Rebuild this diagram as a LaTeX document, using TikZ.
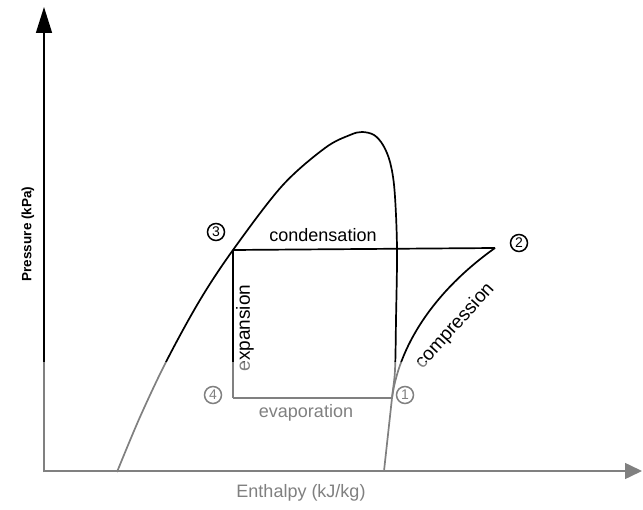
\documentclass[tikz,border=0pt]{standalone}
\usepackage{fontspec}
\setmainfont{Liberation Sans}
\usetikzlibrary{arrows.meta}
\begin{document}
\begin{tikzpicture}[x=1pt,y=-1pt,
  curve/.style={line width=1.7pt, line join=round},
  axis/.style={line width=1.5pt},
  lbl/.style={font=\fontsize{18}{18}\selectfont, inner sep=0pt},
  statemark/.style={circle, draw, line width=1.5pt, minimum size=17pt, inner sep=0pt,
    font=\fontsize{14}{14}\selectfont}]
\useasboundingbox (0,0) rectangle (643,510);
% axes
\coordinate (o) at (44,471);
\coordinate (ytip) at (44,7);
\coordinate (xtip) at (642,471);
\draw[axis, -{Triangle[length=26pt,width=16pt]}] (44,472.5) -- (ytip);
\draw[axis, -{Triangle[length=17pt,width=16pt]}] (43.3,471) -- (xtip);
\node[rotate=90, font=\bfseries\fontsize{13.5}{13.5}\selectfont, inner sep=0pt] (ylab) at (28,234) {Pressure (kPa)};
\node[lbl] (xlab) at (301,493) {Enthalpy (kJ/kg)};
% state points
\coordinate (s1) at (392,398);
\coordinate (s2) at (495,248);
\coordinate (s3) at (233,250);
\coordinate (s4) at (233,398);
% saturation dome
\draw[curve] plot[smooth, tension=0.55] coordinates {(117,472) (140,417) (167,360) (200,300) (s3) (282,186) (325,148) (350,135) (362,132) (374,135) (383,145) (390,162) (394.5,190) (397,248) (396,320) (395,370) (s1) (384,471)};
% cycle
\draw[curve] (s3) -- (s2);
\draw[curve] (s3) -- (s4);
\draw[curve] (s4) -- (s1);
\draw[curve] (s1) .. controls (400,340) and (440,287) .. (s2);
% labels
\node[lbl] (lcond) at (323,235) {condensation};
\node[lbl, rotate=90, font=\fontsize{19}{19}\selectfont] (lexp) at (245,328) {expansion};
\node[lbl] (levap) at (306,413) {evaporation};
\node[lbl, rotate=48, font=\fontsize{19}{19}\selectfont] (lcomp) at (455,326) {compression};
% state markers
\node[statemark] (m1) at (405,395) {1};
\node[statemark] (m2) at (519,243) {2};
\node[statemark] (m3) at (216,232) {3};
\node[statemark] (m4) at (213,395) {4};
% fading of the lower part
\fill[white, fill opacity=0.5] (0,362) rectangle (643,510);
\end{tikzpicture}
\end{document}
